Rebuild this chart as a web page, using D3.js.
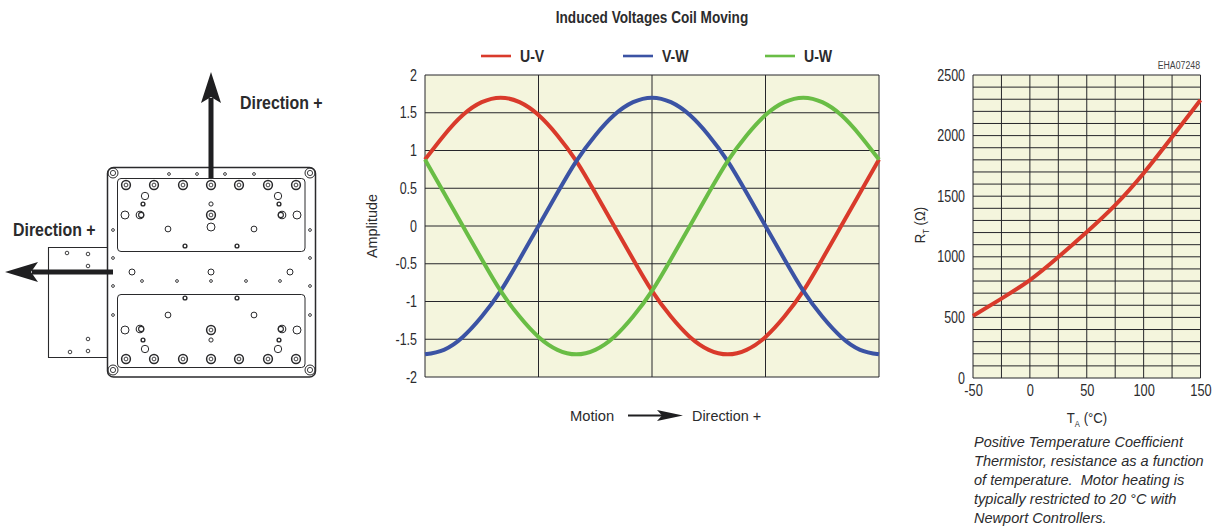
<!DOCTYPE html>
<html>
<head>
<meta charset="utf-8">
<script src="https://cdn.jsdelivr.net/npm/d3@7"></script>
<style>
html, body { margin: 0; background: #fff; }
svg { display: block; }
text { font-family: "Liberation Sans", sans-serif; fill: #2b2b2d; }
</style>
</head>
<body>
<svg width="1227" height="526"></svg>
<script>
// induced voltages, read every 15 deg of motion
const motion = [0, 15, 30, 45, 60, 75, 90, 105, 120, 135, 150, 165, 180, 195, 210, 225, 240, 255, 270, 285, 300, 315, 330, 345, 360];
const uv = [0.88, 1.2, 1.47, 1.64, 1.7, 1.64, 1.47, 1.2, 0.86, 0.44, 0, -0.44, -0.86, -1.2, -1.47, -1.64, -1.7, -1.64, -1.47, -1.2, -0.86, -0.44, 0, 0.44, 0.88];
const vw = [-1.7, -1.64, -1.47, -1.2, -0.86, -0.44, 0, 0.44, 0.86, 1.2, 1.47, 1.64, 1.7, 1.64, 1.47, 1.2, 0.86, 0.44, 0, -0.44, -0.86, -1.2, -1.47, -1.64, -1.7];
const uw = [0.88, 0.44, 0, -0.44, -0.86, -1.2, -1.47, -1.64, -1.7, -1.64, -1.47, -1.2, -0.86, -0.44, 0, 0.44, 0.86, 1.2, 1.47, 1.64, 1.7, 1.64, 1.47, 1.2, 0.88];
const seriesNames = ['U-V', 'V-W', 'U-W'];
const seriesColors = ['#d93a2b', '#3b53a4', '#69bd45'];
const ampTicks = [-2, -1.5, -1, -0.5, 0, 0.5, 1, 1.5, 2];
const motionGrid = [0, 90, 180, 270, 360];

// thermistor curve
const temps = [-50, -25, 0, 25, 50, 75, 100, 125, 150];
const resist = [512, 655, 808, 998, 1205, 1427, 1690, 1988, 2294];
const tempTicks = [-50, 0, 50, 100, 150];
const tempGrid = d3.range(-50, 151, 25);
const resTicks = [0, 500, 1000, 1500, 2000, 2500];
const resGrid = d3.range(0, 2501, 100);
const caption = [
    'Positive Temperature Coefficient',
    'Thermistor, resistance as a function',
    'of temperature.  Motor heating is',
    'typically restricted to 20 °C with',
    'Newport Controllers.'
];

const svg = d3.select('svg');
const plotBg = '#f4f5dd';
const gridColor = '#26262a';

// the original font is condensed, so text gets squeezed to its width
const squeeze = (sel, k) => sel.each(function () {
    const len = this.getComputedTextLength();
    d3.select(this).attr('lengthAdjust', 'spacingAndGlyphs').attr('textLength', len * k);
});

const label = (x, y, str, size, weight, anchor, k) => svg.append('text')
    .attr('x', x).attr('y', y).attr('font-size', size)
    .attr('font-weight', weight || 'normal')
    .attr('text-anchor', anchor || 'start')
    .attr('xml:space', 'preserve')
    .text(str)
    .call(squeeze, k || 1);

// ---------- middle chart ----------
const xMotion = d3.scaleLinear().domain([0, 360]).range([425, 879]);
const yAmp = d3.scaleLinear().domain([-2, 2]).range([377, 75]);

const mid = svg.append('g');
mid.append('rect')
    .attr('x', 425).attr('y', 75).attr('width', 454).attr('height', 302)
    .attr('fill', plotBg);
mid.selectAll('.gy').data(ampTicks).enter().append('line')
    .attr('x1', 425).attr('x2', 879)
    .attr('y1', d => yAmp(d)).attr('y2', d => yAmp(d))
    .attr('stroke', gridColor).attr('stroke-width', 1);
mid.selectAll('.gx').data(motionGrid).enter().append('line')
    .attr('y1', 75).attr('y2', 377)
    .attr('x1', d => xMotion(d)).attr('x2', d => xMotion(d))
    .attr('stroke', gridColor).attr('stroke-width', 1);

const yAmpAxis = mid.append('g')
    .attr('transform', 'translate(425,0)')
    .call(d3.axisLeft(yAmp).tickValues(ampTicks).tickSize(0).tickPadding(8).tickFormat(d => d));
yAmpAxis.select('.domain').remove();
yAmpAxis.selectAll('text')
    .attr('font-size', 16).attr('font-family', '"Liberation Sans"').attr('fill', '#2b2b2d')
    .call(squeeze, 0.78);

const voltLine = vals => d3.line()
    .x((d, i) => xMotion(motion[i]))
    .y(d => yAmp(d))
    .curve(d3.curveNatural)(vals);

[uv, vw, uw].forEach((vals, i) => {
    mid.append('path')
        .attr('d', voltLine(vals))
        .attr('fill', 'none')
        .attr('stroke', seriesColors[i])
        .attr('stroke-width', 4);
});

label(652, 23, 'Induced Voltages Coil Moving', 16, 'bold', 'middle', 0.85);

// legend
seriesNames.forEach((name, i) => {
    const x0 = 481 + i * 142;
    svg.append('line')
        .attr('x1', x0).attr('x2', x0 + 30)
        .attr('y1', 56).attr('y2', 56)
        .attr('stroke', seriesColors[i]).attr('stroke-width', 2.6);
    label(x0 + 39, 62, name, 16, 'bold', 'start', 0.88);
});

svg.append('text')
    .attr('transform', 'translate(377,226) rotate(-90)')
    .attr('text-anchor', 'middle')
    .attr('font-size', 15)
    .text('Amplitude')
    .call(squeeze, 0.96);

label(570, 421, 'Motion', 15, 'normal', 'start', 0.98);
label(692, 421, 'Direction +', 15, 'normal', 'start', 0.96);
svg.append('line')
    .attr('x1', 628).attr('x2', 672).attr('y1', 415.5).attr('y2', 415.5)
    .attr('stroke', '#1f1f21').attr('stroke-width', 1.8);
svg.append('path')
    .attr('d', 'M683,415.5 L657,410 L662,415.5 L657,421 Z')
    .attr('fill', '#1f1f21');

// ---------- right chart ----------
const xTemp = d3.scaleLinear().domain([-50, 150]).range([973, 1200.5]);
const yRes = d3.scaleLinear().domain([0, 2500]).range([378, 75]);

const right = svg.append('g');
right.append('rect')
    .attr('x', 973).attr('y', 75).attr('width', 227.5).attr('height', 303)
    .attr('fill', plotBg);
right.selectAll('.gy').data(resGrid).enter().append('line')
    .attr('x1', 973).attr('x2', 1200.5)
    .attr('y1', d => yRes(d)).attr('y2', d => yRes(d))
    .attr('stroke', gridColor).attr('stroke-width', 1);
right.selectAll('.gx').data(tempGrid).enter().append('line')
    .attr('y1', 75).attr('y2', 378)
    .attr('x1', d => xTemp(d)).attr('x2', d => xTemp(d))
    .attr('stroke', gridColor).attr('stroke-width', 1);

const yResAxis = right.append('g')
    .attr('transform', 'translate(973,0)')
    .call(d3.axisLeft(yRes).tickValues(resTicks).tickSize(0).tickPadding(8).tickFormat(d => d));
yResAxis.select('.domain').remove();
yResAxis.selectAll('text')
    .attr('font-size', 16).attr('font-family', '"Liberation Sans"').attr('fill', '#2b2b2d')
    .call(squeeze, 0.78);

const xTempAxis = right.append('g')
    .attr('transform', 'translate(0,378)')
    .call(d3.axisBottom(xTemp).tickValues(tempTicks).tickSize(0).tickPadding(7).tickFormat(d => d));
xTempAxis.select('.domain').remove();
xTempAxis.selectAll('text')
    .attr('font-size', 16).attr('font-family', '"Liberation Sans"').attr('fill', '#2b2b2d')
    .call(squeeze, 0.8);

right.append('path')
    .attr('d', d3.line()
        .x((d, i) => xTemp(temps[i]))
        .y(d => yRes(d))
        .curve(d3.curveNatural)(resist))
    .attr('fill', 'none')
    .attr('stroke', '#d93a2b')
    .attr('stroke-width', 4);

label(1200, 69, 'EHA07248', 10, 'normal', 'end', 0.875).style('fill', '#444');

const rtLabel = svg.append('text')
    .attr('transform', 'translate(925,225) rotate(-90) scale(0.85,1)')
    .attr('text-anchor', 'middle')
    .attr('font-size', 15.5);
rtLabel.append('tspan').text('R');
rtLabel.append('tspan').attr('font-size', 9).attr('dy', 4).text('T');
rtLabel.append('tspan').attr('dy', -4).text(' (Ω)');

const taLabel = svg.append('text')
    .attr('transform', 'translate(1087,423) scale(0.85,1)')
    .attr('text-anchor', 'middle')
    .attr('font-size', 15.5);
taLabel.append('tspan').text('T');
taLabel.append('tspan').attr('font-size', 9).attr('dy', 4).text('A');
taLabel.append('tspan').attr('dy', -4).text(' (°C)');

caption.forEach((line, i) => {
    label(974, 447 + i * 19, line, 15, 'normal', 'start', 0.97).attr('font-style', 'italic');
});

// ---------- left drawing (stage outline, not data) ----------
const draw = svg.append('g').attr('fill', 'none').attr('stroke', '#2a2a2c');

draw.append('path')
    .attr('d', 'M107,247.5 H48.5 V357.5 H107')
    .attr('stroke-width', 1.1);
draw.append('rect')
    .attr('x', 107.5).attr('y', 167.5).attr('width', 208).attr('height', 209.5)
    .attr('rx', 6).attr('stroke-width', 1.5);
[178, 294].forEach(y => {
    draw.append('rect')
        .attr('x', 117.5).attr('y', y + 0.5).attr('width', 187.5).attr('height', 73)
        .attr('rx', 3.5).attr('stroke-width', 1);
});

const ring = (x, y, r, w) => draw.append('circle')
    .attr('cx', x).attr('cy', y).attr('r', r).attr('stroke-width', w);

// small holes
[
    [169, 174], [197, 174], [225, 174], [254, 174],
    [113, 230], [310, 230], [113, 258], [310, 258],
    [113, 286], [310, 286], [113, 315], [310, 315],
    [142, 281], [177, 281], [211, 281], [246, 281], [280, 281]
].forEach(p => ring(p[0], p[1], 1.4, 0.9));
// carriage holes
[[67, 253], [88, 254], [88, 266], [88, 339], [88, 351], [70, 352]]
    .forEach(p => ring(p[0], p[1], 1.8, 0.9));
// corner screws
[[113, 173], [310, 173], [113, 370], [310, 370]].forEach(p => {
    ring(p[0], p[1], 5, 1);
    ring(p[0], p[1], 2.6, 0.9);
});
// bolts
const boltX = [126, 154, 183, 211, 239, 268, 296];
const bolts = boltX.map(x => [x, 185]).concat(boltX.map(x => [x, 359]), [[211, 215], [211, 330]]);
bolts.forEach(p => {
    ring(p[0], p[1], 4.4, 1.5);
    ring(p[0], p[1], 1.9, 0.9);
});
// large open holes
[
    [145, 196, 3.7], [278, 196, 3.7], [145, 349, 3.7], [278, 349, 3.7],
    [125, 215, 4], [297, 215, 4], [125, 330, 4], [297, 330, 4],
    [211, 227, 4], [168, 229, 2.9], [254, 229, 2.9], [168, 315, 2.9], [254, 315, 2.9],
    [132, 272, 3], [211, 272, 3], [290, 272, 3],
    [211, 204, 2.1], [211, 340, 2.1]
].forEach(p => ring(p[0], p[1], p[2], 1));
// thick small holes
[
    [143, 204], [279, 204], [143, 340], [279, 340],
    [185, 246], [237, 246], [185, 298], [237, 298]
].forEach(p => ring(p[0], p[1], 1.9, 1.4));
// overlapping pairs
[[140, 215], [282, 215], [140, 329], [282, 329]].forEach(p => {
    ring(p[0], p[1], 3.8, 1.1);
    ring(p[0] + (p[0] < 211 ? 1.2 : -1.2), p[1], 2.6, 1.1);
});

// direction arrows
svg.append('rect')
    .attr('x', 208.5).attr('y', 98).attr('width', 5).attr('height', 80)
    .attr('fill', '#1f1f21');
svg.append('path')
    .attr('d', 'M211,72 L221,103 L211,97 L201,103 Z')
    .attr('fill', '#1f1f21');
svg.append('rect')
    .attr('x', 32).attr('y', 269.5).attr('width', 81).attr('height', 5)
    .attr('fill', '#1f1f21');
svg.append('path')
    .attr('d', 'M5,272 L38,262 L31,272 L38,282 Z')
    .attr('fill', '#1f1f21');

label(240, 108.5, 'Direction +', 18.5, 'bold', 'start', 0.86);
label(13, 236, 'Direction +', 18.5, 'bold', 'start', 0.86);
</script>
</body>
</html>
